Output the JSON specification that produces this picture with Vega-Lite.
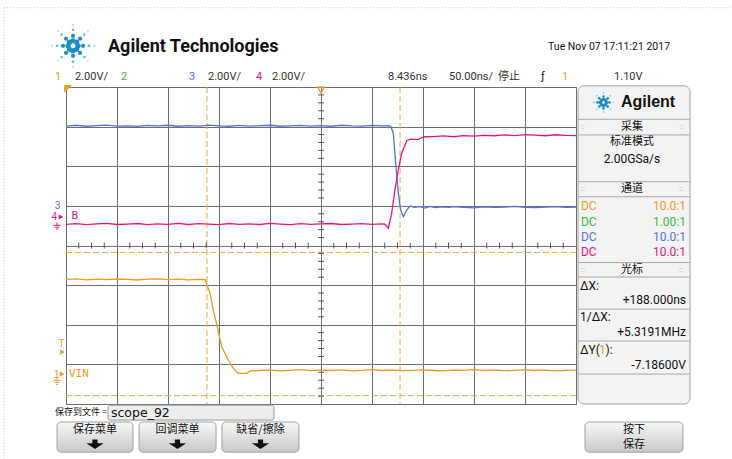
{
"$schema":"https://vega.github.io/schema/vega-lite/v6.json",
"width":510,"height":317,
"autosize":{"type":"none"},
"padding":{"left":66,"top":87,"right":156,"bottom":55},
"background":"white",
"config":{"view":{"stroke":"#6e6e6e","strokeWidth":1,"fill":"white"}},
"datasets":{
"traces":[
{"c":"3","t":-250,"v":6.03},{"c":"3","t":-240,"v":6.07},{"c":"3","t":-230,"v":6.02},{"c":"3","t":-220,"v":6.05},{"c":"3","t":-210,"v":6.08},{"c":"3","t":-200,"v":6.03},{"c":"3","t":-190,"v":6.04},{"c":"3","t":-180,"v":6.01},{"c":"3","t":-170,"v":6.06},{"c":"3","t":-160,"v":6.04},{"c":"3","t":-150,"v":6.07},{"c":"3","t":-140,"v":6.02},{"c":"3","t":-130,"v":6.05},{"c":"3","t":-120,"v":6.03},{"c":"3","t":-110,"v":6.08},{"c":"3","t":-100,"v":6.04},{"c":"3","t":-90,"v":6.02},{"c":"3","t":-80,"v":6.06},{"c":"3","t":-70,"v":6.03},{"c":"3","t":-60,"v":6.05},{"c":"3","t":-50,"v":6.07},{"c":"3","t":-40,"v":6.02},{"c":"3","t":-30,"v":6.04},{"c":"3","t":-20,"v":6.06},{"c":"3","t":-10,"v":6.03},{"c":"3","t":0,"v":6.05},{"c":"3","t":10,"v":6.02},{"c":"3","t":20,"v":6.07},{"c":"3","t":30,"v":6.04},{"c":"3","t":40,"v":6.03},{"c":"3","t":50,"v":6.06},{"c":"3","t":60,"v":6.04},{"c":"3","t":66,"v":6.05},{"c":"3","t":68.3,"v":6.02},{"c":"3","t":70.9,"v":5.67},{"c":"3","t":73.5,"v":3.98},{"c":"3","t":75.8,"v":2.64},{"c":"3","t":78.1,"v":1.79},{"c":"3","t":80.7,"v":1.45},{"c":"3","t":84,"v":1.79},{"c":"3","t":87.3,"v":1.99},{"c":"3","t":92.2,"v":1.93},{"c":"3","t":97.1,"v":1.96},{"c":"3","t":102,"v":1.89},{"c":"3","t":107,"v":1.97},{"c":"3","t":112,"v":1.91},{"c":"3","t":118,"v":1.95},{"c":"3","t":125,"v":1.92},{"c":"3","t":130,"v":1.96},{"c":"3","t":140,"v":1.93},{"c":"3","t":150,"v":1.9},{"c":"3","t":160,"v":1.95},{"c":"3","t":170,"v":1.92},{"c":"3","t":180,"v":1.94},{"c":"3","t":190,"v":1.97},{"c":"3","t":200,"v":1.93},{"c":"3","t":210,"v":1.91},{"c":"3","t":220,"v":1.94},{"c":"3","t":230,"v":1.96},{"c":"3","t":240,"v":1.92},{"c":"3","t":250,"v":1.94},
{"c":"4","t":-250,"v":1.07},{"c":"4","t":-240,"v":1.1},{"c":"4","t":-230,"v":1.05},{"c":"4","t":-220,"v":1.09},{"c":"4","t":-210,"v":1.12},{"c":"4","t":-200,"v":1.06},{"c":"4","t":-190,"v":1.08},{"c":"4","t":-180,"v":1.11},{"c":"4","t":-170,"v":1.05},{"c":"4","t":-160,"v":1.09},{"c":"4","t":-150,"v":1.07},{"c":"4","t":-140,"v":1.12},{"c":"4","t":-130,"v":1.06},{"c":"4","t":-120,"v":1.1},{"c":"4","t":-110,"v":1.08},{"c":"4","t":-100,"v":1.05},{"c":"4","t":-90,"v":1.11},{"c":"4","t":-80,"v":1.07},{"c":"4","t":-70,"v":1.09},{"c":"4","t":-60,"v":1.06},{"c":"4","t":-50,"v":1.12},{"c":"4","t":-40,"v":1.08},{"c":"4","t":-30,"v":1.05},{"c":"4","t":-20,"v":1.1},{"c":"4","t":-10,"v":1.07},{"c":"4","t":0,"v":1.09},{"c":"4","t":10,"v":1.11},{"c":"4","t":20,"v":1.06},{"c":"4","t":30,"v":1.08},{"c":"4","t":40,"v":1.1},{"c":"4","t":50,"v":1.07},{"c":"4","t":60,"v":1.09},{"c":"4","t":62.7,"v":1.08},{"c":"4","t":66,"v":0.87},{"c":"4","t":69.3,"v":1.63},{"c":"4","t":72.5,"v":2.8},{"c":"4","t":75.8,"v":3.81},{"c":"4","t":79.1,"v":4.66},{"c":"4","t":84,"v":5.29},{"c":"4","t":87.3,"v":5.36},{"c":"4","t":95.4,"v":5.36},{"c":"4","t":98.7,"v":5.44},{"c":"4","t":102,"v":5.49},{"c":"4","t":110,"v":5.5},{"c":"4","t":120,"v":5.53},{"c":"4","t":130,"v":5.49},{"c":"4","t":140,"v":5.55},{"c":"4","t":150,"v":5.52},{"c":"4","t":160,"v":5.56},{"c":"4","t":170,"v":5.54},{"c":"4","t":180,"v":5.58},{"c":"4","t":190,"v":5.55},{"c":"4","t":200,"v":5.6},{"c":"4","t":210,"v":5.57},{"c":"4","t":220,"v":5.54},{"c":"4","t":230,"v":5.59},{"c":"4","t":240,"v":5.56},{"c":"4","t":250,"v":5.55},
{"c":"1","t":-250,"v":-1.71},{"c":"1","t":-240,"v":-1.68},{"c":"1","t":-230,"v":-1.73},{"c":"1","t":-220,"v":-1.7},{"c":"1","t":-210,"v":-1.72},{"c":"1","t":-200,"v":-1.69},{"c":"1","t":-190,"v":-1.71},{"c":"1","t":-180,"v":-1.74},{"c":"1","t":-170,"v":-1.7},{"c":"1","t":-160,"v":-1.68},{"c":"1","t":-150,"v":-1.72},{"c":"1","t":-140,"v":-1.7},{"c":"1","t":-130,"v":-1.73},{"c":"1","t":-120,"v":-1.71},{"c":"1","t":-113.7,"v":-1.72},{"c":"1","t":-108.8,"v":-2.4},{"c":"1","t":-105.6,"v":-3.26},{"c":"1","t":-101.7,"v":-4.1},{"c":"1","t":-97.4,"v":-5.11},{"c":"1","t":-90.9,"v":-5.78},{"c":"1","t":-86,"v":-6.2},{"c":"1","t":-81.1,"v":-6.45},{"c":"1","t":-72.8,"v":-6.45},{"c":"1","t":-69.6,"v":-6.34},{"c":"1","t":-60,"v":-6.31},{"c":"1","t":-50,"v":-6.29},{"c":"1","t":-40,"v":-6.33},{"c":"1","t":-30,"v":-6.3},{"c":"1","t":-20,"v":-6.27},{"c":"1","t":-10,"v":-6.32},{"c":"1","t":0,"v":-6.29},{"c":"1","t":10,"v":-6.31},{"c":"1","t":20,"v":-6.28},{"c":"1","t":30,"v":-6.33},{"c":"1","t":40,"v":-6.3},{"c":"1","t":50,"v":-6.27},{"c":"1","t":60,"v":-6.31},{"c":"1","t":70,"v":-6.29},{"c":"1","t":80,"v":-6.32},{"c":"1","t":90,"v":-6.3},{"c":"1","t":100,"v":-6.28},{"c":"1","t":110,"v":-6.31},{"c":"1","t":120,"v":-6.33},{"c":"1","t":130,"v":-6.29},{"c":"1","t":140,"v":-6.3},{"c":"1","t":150,"v":-6.27},{"c":"1","t":160,"v":-6.31},{"c":"1","t":170,"v":-6.29},{"c":"1","t":180,"v":-6.32},{"c":"1","t":190,"v":-6.3},{"c":"1","t":200,"v":-6.28},{"c":"1","t":210,"v":-6.31},{"c":"1","t":220,"v":-6.29},{"c":"1","t":230,"v":-6.33},{"c":"1","t":240,"v":-6.3},{"c":"1","t":250,"v":-6.29}
],
"ticksx":[{"t":-237.5,"v":0},{"t":-225,"v":0},{"t":-212.5,"v":0},{"t":-187.5,"v":0},{"t":-175,"v":0},{"t":-162.5,"v":0},{"t":-137.5,"v":0},{"t":-125,"v":0},{"t":-112.5,"v":0},{"t":-87.5,"v":0},{"t":-75,"v":0},{"t":-62.5,"v":0},{"t":-37.5,"v":0},{"t":-25,"v":0},{"t":-12.5,"v":0},{"t":12.5,"v":0},{"t":25,"v":0},{"t":37.5,"v":0},{"t":62.5,"v":0},{"t":75,"v":0},{"t":87.5,"v":0},{"t":112.5,"v":0},{"t":125,"v":0},{"t":137.5,"v":0},{"t":162.5,"v":0},{"t":175,"v":0},{"t":187.5,"v":0},{"t":212.5,"v":0},{"t":225,"v":0},{"t":237.5,"v":0}],
"ticksy":[{"t":0,"v":-7.6},{"t":0,"v":-7.2},{"t":0,"v":-6.8},{"t":0,"v":-6.4},{"t":0,"v":-5.6},{"t":0,"v":-5.2},{"t":0,"v":-4.8},{"t":0,"v":-4.4},{"t":0,"v":-3.6},{"t":0,"v":-3.2},{"t":0,"v":-2.8},{"t":0,"v":-2.4},{"t":0,"v":-1.6},{"t":0,"v":-1.2},{"t":0,"v":-0.8},{"t":0,"v":-0.4},{"t":0,"v":0.4},{"t":0,"v":0.8},{"t":0,"v":1.2},{"t":0,"v":1.6},{"t":0,"v":2.4},{"t":0,"v":2.8},{"t":0,"v":3.2},{"t":0,"v":3.6},{"t":0,"v":4.4},{"t":0,"v":4.8},{"t":0,"v":5.2},{"t":0,"v":5.6},{"t":0,"v":6.4},{"t":0,"v":6.8},{"t":0,"v":7.2},{"t":0,"v":7.6}],
"cursors":[{"t":-111.8,"t2":-111.8,"v":8,"v2":-8},{"t":77.5,"t2":77.5,"v":8,"v2":-8},{"t":-250,"t2":250,"v":-0.35,"v2":-0.35},{"t":-250,"t2":250,"v":-7.58,"v2":-7.58}],
"border":[{"t":-310.8,"t2":410,"v":12,"v2":12},{"t":-310.8,"t2":-310.8,"v":12,"v2":-11.6}],
"panel":[{"t":252.0,"t2":361.8,"v":8.06,"v2":-8.0}],
"textbox":[{"t":-208.8,"t2":-46.1,"v":-8.06,"v2":-8.81}],
"buttons":[{"t":-258.8,"t2":-184.3,"v":-8.91,"v2":-10.43},{"t":-178.4,"t2":-102.9,"v":-8.91,"v2":-10.43},{"t":-97.1,"t2":-21.6,"v":-8.91,"v2":-10.43},{"t":258.8,"t2":354.9,"v":-8.91,"v2":-10.43}],
"plines":[{"t":252.0,"t2":361.8,"v":6.37},{"t":252.0,"t2":361.8,"v":5.58},{"t":252.0,"t2":361.8,"v":3.22},{"t":252.0,"t2":361.8,"v":2.46},{"t":252.0,"t2":361.8,"v":-0.86},{"t":252.0,"t2":361.8,"v":-1.59},{"t":252.0,"t2":361.8,"v":-3.21},{"t":252.0,"t2":361.8,"v":-4.82},{"t":252.0,"t2":361.8,"v":-6.49}],
"tri":[{"t":-253.9,"v":-6.49,"c":"1"},{"t":-253.4,"v":-5.38,"c":"1"},{"t":-254.9,"v":1.44,"c":"4"}],
"ground":[{"t":-258.8,"v":-6.86,"c":"1"},{"t":-258.8,"v":0.98,"c":"4"}],
"corner":[{"t":-248.0,"v":7.9,"c":"1"}],
"trig":[{"t":0,"v":7.85,"c":"1"}],
"arrows":[{"t":-221.6,"v":-10.03},{"t":-140.7,"v":-10.03},{"t":-59.3,"v":-10.03}],
"logo":[
{"t":-238.2,"v":10.08,"r":1,"c":"L1"},{"t":-239.6,"v":9.9,"r":1,"c":"L1"},{"t":-243.1,"v":9.83,"r":1,"c":"L1"},{"t":-246.6,"v":9.9,"r":1,"c":"L1"},{"t":-248.0,"v":10.08,"r":1,"c":"L1"},{"t":-246.6,"v":10.26,"r":1,"c":"L1"},{"t":-243.1,"v":10.33,"r":1,"c":"L1"},{"t":-239.6,"v":10.26,"r":1,"c":"L1"},
{"t":-233.3,"v":10.08,"r":3,"c":"L1"},{"t":-236.2,"v":9.72,"r":3,"c":"L1"},{"t":-243.1,"v":9.575,"r":3,"c":"L1"},{"t":-250.0,"v":9.72,"r":3,"c":"L1"},{"t":-252.9,"v":10.08,"r":3,"c":"L1"},{"t":-250.0,"v":10.44,"r":3,"c":"L1"},{"t":-243.1,"v":10.585,"r":3,"c":"L1"},{"t":-236.2,"v":10.44,"r":3,"c":"L1"},
{"t":-227.4,"v":10.08,"r":5,"c":"L2"},{"t":-232.0,"v":9.51,"r":5,"c":"L2"},{"t":-243.1,"v":9.27,"r":5,"c":"L2"},{"t":-254.2,"v":9.51,"r":5,"c":"L2"},{"t":-258.8,"v":10.08,"r":5,"c":"L2"},{"t":-254.2,"v":10.65,"r":5,"c":"L2"},{"t":-243.1,"v":10.89,"r":5,"c":"L2"},{"t":-232.0,"v":10.65,"r":5,"c":"L2"},
{"t":-222.5,"v":10.08,"r":6,"c":"L2"},{"t":-228.5,"v":9.33,"r":6,"c":"L2"},{"t":-243.1,"v":9.02,"r":6,"c":"L2"},{"t":-257.7,"v":9.33,"r":6,"c":"L2"},{"t":-263.7,"v":10.08,"r":6,"c":"L2"},{"t":-257.7,"v":10.83,"r":6,"c":"L2"},{"t":-243.1,"v":11.14,"r":6,"c":"L2"},{"t":-228.5,"v":10.83,"r":6,"c":"L2"},
{"t":279.9,"v":7.22,"r":4,"c":"L1"},{"t":279.0,"v":7.11,"r":4,"c":"L1"},{"t":277.0,"v":7.07,"r":4,"c":"L1"},{"t":274.9,"v":7.11,"r":4,"c":"L1"},{"t":274.0,"v":7.22,"r":4,"c":"L1"},{"t":274.9,"v":7.33,"r":4,"c":"L1"},{"t":277.0,"v":7.37,"r":4,"c":"L1"},{"t":279.0,"v":7.33,"r":4,"c":"L1"},
{"t":282.8,"v":7.22,"r":5,"c":"L1"},{"t":281.1,"v":7.01,"r":5,"c":"L1"},{"t":277.0,"v":6.92,"r":5,"c":"L1"},{"t":272.8,"v":7.01,"r":5,"c":"L1"},{"t":271.1,"v":7.22,"r":5,"c":"L1"},{"t":272.8,"v":7.43,"r":5,"c":"L1"},{"t":277.0,"v":7.52,"r":5,"c":"L1"},{"t":281.1,"v":7.43,"r":5,"c":"L1"},
{"t":286.3,"v":7.22,"r":6,"c":"L2"},{"t":283.6,"v":6.88,"r":6,"c":"L2"},{"t":277.0,"v":6.74,"r":6,"c":"L2"},{"t":270.4,"v":6.88,"r":6,"c":"L2"},{"t":267.7,"v":7.22,"r":6,"c":"L2"},{"t":270.4,"v":7.56,"r":6,"c":"L2"},{"t":277.0,"v":7.7,"r":6,"c":"L2"},{"t":283.6,"v":7.56,"r":6,"c":"L2"}
],
"tBig":[{"s":"Agilent Technologies","t":-208.8,"v":10.03,"c":"k"}],
"tBold":[{"s":"Agilent","t":294.1,"v":7.22,"c":"k"}],
"tDate":[{"s":"Tue Nov 07 17:11:21 2017","t":342.2,"v":10.03,"c":"k"}],
"tRN":[{"s":"10.0:1","t":357.8,"v":1.97,"c":"1"},{"s":"1.00:1","t":357.8,"v":1.21,"c":"2"},{"s":"10.0:1","t":357.8,"v":0.45,"c":"3"},{"s":"10.0:1","t":357.8,"v":-0.33,"c":"4"},{"s":"+188.000ns","t":357.8,"v":-2.75,"c":"k"},{"s":"+5.3191MHz","t":357.8,"v":-4.37,"c":"k"},{"s":"-7.18600V","t":357.8,"v":-6.04,"c":"k"}],
"tStat":[{"s":"1","t":-260.8,"v":8.51,"c":"1"},{"s":"2.00V/","t":-241.2,"v":8.51,"c":"d"},{"s":"2","t":-196.1,"v":8.51,"c":"2"},{"s":"3","t":-129.4,"v":8.51,"c":"3"},{"s":"2.00V/","t":-110.8,"v":8.51,"c":"d"},{"s":"4","t":-63.7,"v":8.51,"c":"4"},{"s":"2.00V/","t":-48.0,"v":8.51,"c":"d"},{"s":"8.436ns","t":65.7,"v":8.51,"c":"d"},{"s":"50.00ns/","t":125.5,"v":8.51,"c":"d"},{"s":"ƒ","t":215.7,"v":8.51,"c":"k"},{"s":"1","t":236.3,"v":8.51,"c":"1"},{"s":"1.10V","t":287.3,"v":8.51,"c":"d"}],
"tLN":[{"s":"DC","t":254.9,"v":1.97,"c":"1"},{"s":"DC","t":254.9,"v":1.21,"c":"2"},{"s":"DC","t":254.9,"v":0.45,"c":"3"},{"s":"DC","t":254.9,"v":-0.33,"c":"4"},{"s":"ΔX:","t":253.9,"v":-2.05,"c":"k"},{"s":"1/ΔX:","t":253.9,"v":-3.61,"c":"k"},{"s":"ΔY(","t":253.9,"v":-5.28,"c":"k"},{"s":"1","t":272.5,"v":-5.28,"c":"1"},{"s":"):","t":278.9,"v":-5.28,"c":"k"}],
"tCN":[{"s":"2.00GSa/s","t":304.9,"v":4.37,"c":"k"}],
"tLC12":[{"s":"停止","t":173.5,"v":8.51,"c":"d"}],
"tLC10":[{"s":"保存到文件 =","t":-260.8,"v":-8.41,"c":"k"}],
"tCC":[{"s":"采集","t":304.9,"v":5.96,"c":"k"},{"s":"标准模式","t":304.9,"v":5.23,"c":"k"},{"s":"通道","t":304.9,"v":2.83,"c":"k"},{"s":"光标","t":304.9,"v":-1.24,"c":"k"},{"s":"保存菜单","t":-221.6,"v":-9.32,"c":"k"},{"s":"回调菜单","t":-140.7,"v":-9.32,"c":"k"},{"s":"缺省/擦除","t":-59.3,"v":-9.32,"c":"k"},{"s":"按下","t":306.9,"v":-9.32,"c":"k"},{"s":"保存","t":306.9,"v":-10.08,"c":"k"}],
"tSm":[{"s":"::","t":256.9,"v":5.96,"c":"g"},{"s":"::","t":352.9,"v":5.96,"c":"g"},{"s":"::","t":256.9,"v":2.83,"c":"g"},{"s":"::","t":352.9,"v":2.83,"c":"g"},{"s":"::","t":256.9,"v":-1.24,"c":"g"},{"s":"::","t":352.9,"v":-1.24,"c":"g"}],
"tMono":[{"s":"VIN","t":-247.1,"v":-6.49,"c":"1"},{"s":"B","t":-244.6,"v":1.49,"c":"4"}],
"tScope":[{"s":"scope_92","t":-205.9,"v":-8.43,"c":"k"}],
"tL11":[{"s":"1","t":-261.8,"v":-6.54,"c":"1"},{"s":"T","t":-257.4,"v":-4.97,"c":"1"},{"s":"4","t":-264.2,"v":1.42,"c":"4"},{"s":"3","t":-261.0,"v":1.98,"c":"3"}]
},
"encoding":{
"x":{"field":"t","type":"quantitative","scale":{"domain":[-250,250],"nice":false,"zero":false},"axis":{"values":[-250,-200,-150,-100,-50,0,50,100,150,200,250],"grid":true,"gridColor":"#6e6e6e","gridOpacity":1,"labels":false,"ticks":false,"domain":false,"title":null}},
"y":{"field":"v","type":"quantitative","scale":{"domain":[-8,8],"nice":false,"zero":false},"axis":{"values":[-8,-6,-4,-2,0,2,4,6,8],"grid":true,"gridColor":"#6e6e6e","gridOpacity":1,"labels":false,"ticks":false,"domain":false,"title":null}}
},
"layer":[
{"data":{"name":"border"},"mark":{"type":"rule","color":"#c4c4c4","strokeDash":[1,2]},"encoding":{"x2":{"field":"t2"},"y2":{"field":"v2"}}},
{"data":{"name":"panel"},"mark":{"type":"rect","fill":"#f3f3f3","stroke":"#a0a0a0","strokeWidth":1,"cornerRadius":6},"encoding":{"x2":{"field":"t2"},"y2":{"field":"v2"}}},
{"data":{"name":"textbox"},"mark":{"type":"rect","fill":"#ececec","stroke":"#9a9a9a","strokeWidth":1,"cornerRadius":2},"encoding":{"x2":{"field":"t2"},"y2":{"field":"v2"}}},
{"data":{"name":"buttons"},"mark":{"type":"rect","fill":{"gradient":"linear","x1":0,"y1":0,"x2":0,"y2":1,"stops":[{"offset":0,"color":"#f7f7f7"},{"offset":1,"color":"#c9c9c9"}]},"stroke":"#a2a2a2","strokeWidth":1,"cornerRadius":4},"encoding":{"x2":{"field":"t2"},"y2":{"field":"v2"}}},
{"data":{"name":"plines"},"mark":{"type":"rule","color":"#a8a8a8","strokeWidth":1},"encoding":{"x2":{"field":"t2"}}},
{"data":{"name":"cursors"},"mark":{"type":"rule","color":"#f0a83c","strokeWidth":1,"strokeDash":[6,3]},"encoding":{"x2":{"field":"t2"},"y2":{"field":"v2"}}},
{"data":{"name":"ticksx"},"mark":{"type":"tick","orient":"vertical","size":6,"thickness":1,"color":"#555555","opacity":1}},
{"data":{"name":"ticksy"},"mark":{"type":"tick","orient":"horizontal","size":6,"thickness":1,"color":"#555555","opacity":1}},
{"data":{"name":"traces"},"mark":{"type":"line","strokeWidth":1.3,"clip":true},"encoding":{"color":{"field":"c","type":"nominal","scale":{"domain":["1","2","3","4","k","g","L1","L2","d"],"range":["#e99c20","#44b544","#5572d6","#e2177d","#111111","#a0a0a0","#1f8cc4","#62bde0","#333333"]},"legend":null}}},
{"data":{"name":"tri"},"mark":{"type":"point","shape":"triangle-right","size":28,"filled":true,"opacity":1},"encoding":{"color":{"field":"c","type":"nominal","scale":{"domain":["1","2","3","4","k","g","L1","L2","d"],"range":["#e99c20","#44b544","#5572d6","#e2177d","#111111","#a0a0a0","#1f8cc4","#62bde0","#333333"]},"legend":null}}},
{"data":{"name":"ground"},"mark":{"type":"point","shape":"M 0 -1 L 0 -0.2 M -1 -0.2 L 1 -0.2 M -0.6 0.3 L 0.6 0.3 M -0.25 0.8 L 0.25 0.8","size":55,"filled":false,"strokeWidth":1,"opacity":1},"encoding":{"color":{"field":"c","type":"nominal","scale":{"domain":["1","2","3","4","k","g","L1","L2","d"],"range":["#e99c20","#44b544","#5572d6","#e2177d","#111111","#a0a0a0","#1f8cc4","#62bde0","#333333"]},"legend":null}}},
{"data":{"name":"corner"},"mark":{"type":"point","shape":"M -1 -1 L 1 -1 L -1 1 Z","size":60,"filled":true,"opacity":1},"encoding":{"color":{"field":"c","type":"nominal","scale":{"domain":["1","2","3","4","k","g","L1","L2","d"],"range":["#e99c20","#44b544","#5572d6","#e2177d","#111111","#a0a0a0","#1f8cc4","#62bde0","#333333"]},"legend":null}}},
{"data":{"name":"trig"},"mark":{"type":"point","shape":"triangle-down","size":45,"filled":false,"strokeWidth":1.3,"opacity":1},"encoding":{"color":{"field":"c","type":"nominal","scale":{"domain":["1","2","3","4","k","g","L1","L2","d"],"range":["#e99c20","#44b544","#5572d6","#e2177d","#111111","#a0a0a0","#1f8cc4","#62bde0","#333333"]},"legend":null}}},
{"data":{"name":"arrows"},"mark":{"type":"point","shape":"M -0.3 -0.55 L 0.3 -0.55 L 0.3 -0.1 L 1 -0.1 L 0 0.55 L -1 -0.1 L -0.3 -0.1 Z","size":300,"filled":true,"color":"#111111","opacity":1}},
{"data":{"name":"logo"},"mark":{"type":"point","shape":"circle","filled":true,"opacity":1},"encoding":{"size":{"field":"r","type":"quantitative","scale":{"domain":[1,6],"range":[28,2]},"legend":null},"color":{"field":"c","type":"nominal","scale":{"domain":["1","2","3","4","k","g","L1","L2","d"],"range":["#e99c20","#44b544","#5572d6","#e2177d","#111111","#a0a0a0","#1f8cc4","#62bde0","#333333"]},"legend":null}}},
{"data":{"name":"tBig"},"mark":{"type":"text","align":"left","baseline":"middle","font":"Roboto","fontWeight":"bold","fontSize":18},"encoding":{"text":{"field":"s"},"color":{"field":"c","type":"nominal","scale":{"domain":["1","2","3","4","k","g","L1","L2","d"],"range":["#e99c20","#44b544","#5572d6","#e2177d","#111111","#a0a0a0","#1f8cc4","#62bde0","#333333"]},"legend":null}}},
{"data":{"name":"tBold"},"mark":{"type":"text","align":"left","baseline":"middle","font":"Liberation Sans","fontWeight":"bold","fontSize":16},"encoding":{"text":{"field":"s"},"color":{"field":"c","type":"nominal","scale":{"domain":["1","2","3","4","k","g","L1","L2","d"],"range":["#e99c20","#44b544","#5572d6","#e2177d","#111111","#a0a0a0","#1f8cc4","#62bde0","#333333"]},"legend":null}}},
{"data":{"name":"tDate"},"mark":{"type":"text","align":"right","baseline":"middle","font":"Roboto","fontSize":10.5},"encoding":{"text":{"field":"s"},"color":{"field":"c","type":"nominal","scale":{"domain":["1","2","3","4","k","g","L1","L2","d"],"range":["#e99c20","#44b544","#5572d6","#e2177d","#111111","#a0a0a0","#1f8cc4","#62bde0","#333333"]},"legend":null}}},
{"data":{"name":"tRN"},"mark":{"type":"text","align":"right","baseline":"middle","font":"Roboto","fontSize":12},"encoding":{"text":{"field":"s"},"color":{"field":"c","type":"nominal","scale":{"domain":["1","2","3","4","k","g","L1","L2","d"],"range":["#e99c20","#44b544","#5572d6","#e2177d","#111111","#a0a0a0","#1f8cc4","#62bde0","#333333"]},"legend":null}}},
{"data":{"name":"tStat"},"mark":{"type":"text","align":"left","baseline":"middle","font":"Roboto","fontSize":11},"encoding":{"text":{"field":"s"},"color":{"field":"c","type":"nominal","scale":{"domain":["1","2","3","4","k","g","L1","L2","d"],"range":["#e99c20","#44b544","#5572d6","#e2177d","#111111","#a0a0a0","#1f8cc4","#62bde0","#333333"]},"legend":null}}},
{"data":{"name":"tLN"},"mark":{"type":"text","align":"left","baseline":"middle","font":"Roboto","fontSize":12},"encoding":{"text":{"field":"s"},"color":{"field":"c","type":"nominal","scale":{"domain":["1","2","3","4","k","g","L1","L2","d"],"range":["#e99c20","#44b544","#5572d6","#e2177d","#111111","#a0a0a0","#1f8cc4","#62bde0","#333333"]},"legend":null}}},
{"data":{"name":"tCN"},"mark":{"type":"text","align":"center","baseline":"middle","font":"Roboto","fontSize":12},"encoding":{"text":{"field":"s"},"color":{"field":"c","type":"nominal","scale":{"domain":["1","2","3","4","k","g","L1","L2","d"],"range":["#e99c20","#44b544","#5572d6","#e2177d","#111111","#a0a0a0","#1f8cc4","#62bde0","#333333"]},"legend":null}}},
{"data":{"name":"tLC12"},"mark":{"type":"text","align":"left","baseline":"middle","font":"Noto Sans CJK SC","fontSize":11},"encoding":{"text":{"field":"s"},"color":{"field":"c","type":"nominal","scale":{"domain":["1","2","3","4","k","g","L1","L2","d"],"range":["#e99c20","#44b544","#5572d6","#e2177d","#111111","#a0a0a0","#1f8cc4","#62bde0","#333333"]},"legend":null}}},
{"data":{"name":"tLC10"},"mark":{"type":"text","align":"left","baseline":"middle","font":"Noto Sans CJK SC","fontSize":9},"encoding":{"text":{"field":"s"},"color":{"field":"c","type":"nominal","scale":{"domain":["1","2","3","4","k","g","L1","L2","d"],"range":["#e99c20","#44b544","#5572d6","#e2177d","#111111","#a0a0a0","#1f8cc4","#62bde0","#333333"]},"legend":null}}},
{"data":{"name":"tCC"},"mark":{"type":"text","align":"center","baseline":"middle","font":"Noto Sans CJK SC","fontSize":11},"encoding":{"text":{"field":"s"},"color":{"field":"c","type":"nominal","scale":{"domain":["1","2","3","4","k","g","L1","L2","d"],"range":["#e99c20","#44b544","#5572d6","#e2177d","#111111","#a0a0a0","#1f8cc4","#62bde0","#333333"]},"legend":null}}},
{"data":{"name":"tSm"},"mark":{"type":"text","align":"center","baseline":"middle","font":"Liberation Sans","fontSize":7},"encoding":{"text":{"field":"s"},"color":{"field":"c","type":"nominal","scale":{"domain":["1","2","3","4","k","g","L1","L2","d"],"range":["#e99c20","#44b544","#5572d6","#e2177d","#111111","#a0a0a0","#1f8cc4","#62bde0","#333333"]},"legend":null}}},
{"data":{"name":"tMono"},"mark":{"type":"text","align":"left","baseline":"middle","font":"DejaVu Sans Mono","fontSize":11},"encoding":{"text":{"field":"s"},"color":{"field":"c","type":"nominal","scale":{"domain":["1","2","3","4","k","g","L1","L2","d"],"range":["#e99c20","#44b544","#5572d6","#e2177d","#111111","#a0a0a0","#1f8cc4","#62bde0","#333333"]},"legend":null}}},
{"data":{"name":"tScope"},"mark":{"type":"text","align":"left","baseline":"middle","font":"DejaVu Sans","fontSize":12.5},"encoding":{"text":{"field":"s"},"color":{"field":"c","type":"nominal","scale":{"domain":["1","2","3","4","k","g","L1","L2","d"],"range":["#e99c20","#44b544","#5572d6","#e2177d","#111111","#a0a0a0","#1f8cc4","#62bde0","#333333"]},"legend":null}}},
{"data":{"name":"tL11"},"mark":{"type":"text","align":"left","baseline":"middle","font":"Liberation Sans","fontSize":10},"encoding":{"text":{"field":"s"},"color":{"field":"c","type":"nominal","scale":{"domain":["1","2","3","4","k","g","L1","L2","d"],"range":["#e99c20","#44b544","#5572d6","#e2177d","#111111","#a0a0a0","#1f8cc4","#62bde0","#333333"]},"legend":null}}}
]
}
